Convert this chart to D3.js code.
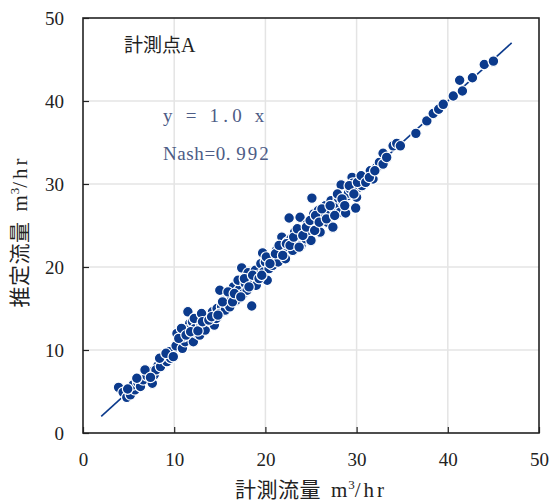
<!DOCTYPE html>
<html>
<head>
<meta charset="utf-8">
<script src="https://cdn.jsdelivr.net/npm/d3@7"></script>
<style>
  body { margin: 0; background: #fff; }
  svg { display: block; }
</style>
</head>
<body>
<svg id="chart" width="552" height="504"></svg>
<script>
const measured = [
  3.9, 4.4, 4.8, 5.2, 5.7, 5.5, 6.0, 6.3, 6.6, 7.0, 7.6, 7.3, 7.8, 8.2, 8.0, 8.7, 8.5, 9.0, 9.2, 9.6, 9.8, 9.5,
  10.3, 10.6, 10.2, 10.9, 11.2, 11.0, 11.5, 11.7, 11.4, 12.1, 12.5, 12.0, 12.3, 12.7, 12.9, 12.8, 13.2, 13.5, 13.7, 13.4, 14.0, 14.2, 14.4, 14.7, 14.6, 15.0, 15.2, 15.0,
  15.5, 15.6, 15.8, 16.0, 16.3, 16.1, 16.5, 16.8, 16.9, 17.2, 17.4, 17.0, 17.6, 17.8, 18.0, 18.3, 18.1, 18.5, 18.7, 18.9, 19.2, 19.0, 19.5, 19.7, 19.8, 20.2, 20.0,
  20.4, 20.6, 20.8, 21.0, 21.2, 21.4, 21.8, 21.6, 22.0, 22.2, 22.4, 22.6, 22.5, 22.8, 23.0, 23.2, 23.4, 23.6, 23.8, 23.9, 24.2, 24.4, 24.6, 24.8, 25.0, 25.2, 25.1, 25.3,
  25.6, 25.8, 26.0, 26.3, 26.5, 26.6, 26.8, 27.0, 27.4, 27.5, 27.2, 27.8, 28.0, 28.2, 28.3, 28.5, 28.8, 29.0, 29.1, 29.3, 29.5, 29.6, 29.9, 30.0, 30.2, 30.4,
  30.6, 30.9, 31.2, 31.5, 31.8, 32.2, 32.5, 32.9, 32.9, 33.3, 34.0, 34.4, 34.8, 36.5, 37.7, 38.4, 39.0, 39.5, 40.6, 41.6, 41.3, 42.7, 44.0, 45.0,
  4.9, 5.9, 6.8, 7.4, 8.4, 9.1, 9.9, 10.5, 10.8, 11.3, 11.8, 12.2, 12.6, 13.0, 13.1, 13.8, 14.1, 14.8, 15.3, 15.9, 16.4, 16.6, 17.3, 17.7, 18.2, 18.6, 19.3, 19.6,
  20.1, 20.5, 21.1, 21.5, 21.9, 22.3, 22.7, 23.1, 23.5, 23.7, 24.1, 24.5, 24.9, 25.4, 25.5, 25.9, 26.2, 26.7, 27.1, 27.6, 27.9, 28.4, 28.7, 29.2, 29.7, 30.1,
  30.5, 31.0, 31.4, 32.0
]
const estimated = [
  5.5, 4.9, 4.3, 4.6, 5.2, 5.8, 6.1, 5.6, 6.4, 6.9, 6.0, 7.4, 7.0, 8.1, 7.6, 8.6, 8.0, 9.2, 8.6, 9.0, 10.0, 9.8,
  12.0, 10.8, 10.5, 10.2, 11.0, 11.6, 14.6, 13.2, 12.4, 11.0, 12.0, 13.4, 12.6, 13.6, 12.8, 11.8, 13.0, 14.0, 14.2, 12.4, 13.4, 14.6, 13.0, 15.0, 13.8, 17.2, 15.2, 14.4,
  16.0, 14.8, 15.6, 16.8, 16.4, 15.2, 17.6, 16.0, 17.0, 17.4, 19.9, 18.4, 16.8, 18.0, 17.2, 18.4, 19.3, 15.3, 18.0, 19.6, 19.0, 17.8, 20.4, 21.7, 19.4, 18.4, 20.6,
  19.8, 21.0, 20.2, 21.1, 22.0, 20.6, 23.6, 21.6, 22.4, 21.0, 23.0, 25.9, 22.2, 23.4, 22.0, 24.2, 23.0, 23.6, 26.0, 22.6, 24.4, 23.4, 25.2, 24.0, 23.2, 25.4, 28.3, 26.4,
  25.0, 26.8, 24.2, 26.0, 26.3, 27.4, 25.4, 26.8, 24.8, 27.1, 28.0, 27.6, 28.3, 26.6, 29.9, 27.8, 26.5, 28.6, 28.9, 29.4, 30.8, 30.1, 27.1, 28.4, 29.6, 30.4,
  29.8, 30.8, 31.0, 31.6, 30.6, 32.0, 32.6, 32.4, 33.7, 33.2, 34.6, 34.9, 34.6, 36.1, 37.6, 38.5, 39.0, 39.6, 40.6, 41.2, 42.5, 42.8, 44.4, 44.8,
  5.3, 6.6, 7.6, 6.7, 9.0, 9.6, 9.2, 11.4, 12.6, 11.8, 12.2, 13.8, 12.3, 14.4, 13.4, 13.6, 14.0, 14.2, 15.8, 17.0, 15.8, 16.8, 16.4, 18.6, 17.6, 19.0, 18.6, 19.0,
  21.2, 20.4, 21.6, 22.6, 21.4, 22.8, 22.6, 23.6, 24.6, 22.4, 23.8, 24.8, 25.6, 24.4, 26.2, 25.4, 27.0, 25.8, 27.4, 26.2, 28.8, 28.2, 27.4, 29.8, 28.8, 30.2,
  31.0, 30.2, 30.8, 31.6
]
const tickValues = [0, 10, 20, 30, 40, 50]
const fitLine = [2, 47]   // y = 1.0 x drawn over this x range

const svg = d3.select('#chart')
const margin = {top: 18, right: 13, bottom: 71, left: 83}
const width = 552 - margin.left - margin.right
const height = 504 - margin.top - margin.bottom

const g = svg.append('g')
        .attr('transform', `translate(${margin.left},${margin.top})`)

const xScale = d3.scaleLinear().domain([0, 50]).range([0, width])
const yScale = d3.scaleLinear().domain([0, 50]).range([height, 0])

const blue = '#0b3a8c'
const serif = '"Liberation Serif", "DejaVu Serif", serif'
const jp = '"Noto Sans CJK JP", sans-serif'

// grid
g.append('g').selectAll('line').data(tickValues.slice(1, -1)).enter().append('line')
    .attr('x1', d => xScale(d)).attr('x2', d => xScale(d))
    .attr('y1', 0).attr('y2', height)
    .attr('stroke', '#e4e4e4').attr('stroke-width', 1.5)
g.append('g').selectAll('line').data(tickValues.slice(1, -1)).enter().append('line')
    .attr('y1', d => yScale(d)).attr('y2', d => yScale(d))
    .attr('x1', 0).attr('x2', width)
    .attr('stroke', '#e4e4e4').attr('stroke-width', 1.5)

// fitted line
g.append('line')
    .attr('x1', xScale(fitLine[0])).attr('y1', yScale(fitLine[0]))
    .attr('x2', xScale(fitLine[1])).attr('y2', yScale(fitLine[1]))
    .attr('stroke', blue).attr('stroke-width', 1.6)

// points
g.selectAll('.pt').data(measured.map((m, i) => [m, estimated[i]])).enter().append('circle')
    .attr('class', 'pt')
    .attr('cx', d => xScale(d[0]))
    .attr('cy', d => yScale(d[1]))
    .attr('r', 5.3)
    .attr('fill', blue)
    .attr('stroke', '#fff')
    .attr('stroke-width', 1.2)

// axes
const xAxis = d3.axisBottom(xScale).tickValues(tickValues).tickSize(-6).tickPadding(20)
const yAxis = d3.axisLeft(yScale).tickValues(tickValues).tickSize(-6).tickPadding(19)

const xg = g.append('g').attr('transform', `translate(0,${height})`).call(xAxis)
const yg = g.append('g').call(yAxis)
;[xg, yg].forEach(a => {
    a.select('.domain').remove()
    a.selectAll('line').attr('stroke', '#222').attr('stroke-width', 1.2)
    a.selectAll('text').attr('font-family', serif).attr('font-size', 19).attr('fill', '#222')
})

// frame
g.append('rect')
    .attr('width', width).attr('height', height)
    .attr('fill', 'none').attr('stroke', '#222').attr('stroke-width', 1.6)

// annotations
const lab = g.append('text').attr('x', 41).attr('y', 34)
    .attr('font-size', 19).attr('fill', '#222')
lab.append('tspan').attr('font-family', jp).text('計測点')
lab.append('tspan').attr('font-family', serif).attr('font-size', 20).text('A')

g.append('text').attr('x', 80).attr('y', 104)
    .attr('font-family', serif).attr('font-size', 19).attr('fill', '#4d5c86')
    .attr('letter-spacing', 4.2)
    .attr('xml:space', 'preserve')
    .text('y = 1.0 x')
const nash = g.append('text').attr('x', 80).attr('y', 142)
    .attr('font-family', serif).attr('font-size', 19).attr('fill', '#4d5c86')
nash.append('tspan').attr('letter-spacing', 0.6).text('Nash=0.')
nash.append('tspan').attr('dx', 5).attr('letter-spacing', 2).text('992')

// axis titles
function title(sel, jpText) {
    sel.append('tspan').attr('font-family', jp).attr('letter-spacing', 0.5).text(jpText)
    sel.append('tspan').attr('font-family', serif).attr('dx', 10).text('m')
    sel.append('tspan').attr('font-family', serif).attr('font-size', 13).attr('dx', 1).attr('dy', -8).text('3')
    sel.append('tspan').attr('font-family', serif).attr('dy', 8).attr('letter-spacing', 3).text('/hr')
}
const xt = svg.append('text').attr('x', 311).attr('y', 497)
    .attr('text-anchor', 'middle').attr('font-size', 21).attr('fill', '#222')
title(xt, '計測流量')

const yt = svg.append('text')
    .attr('transform', `translate(27,${margin.top + height / 2 + 6}) rotate(-90)`)
    .attr('text-anchor', 'middle').attr('font-size', 21).attr('fill', '#222')
title(yt, '推定流量')
</script>
</body>
</html>
